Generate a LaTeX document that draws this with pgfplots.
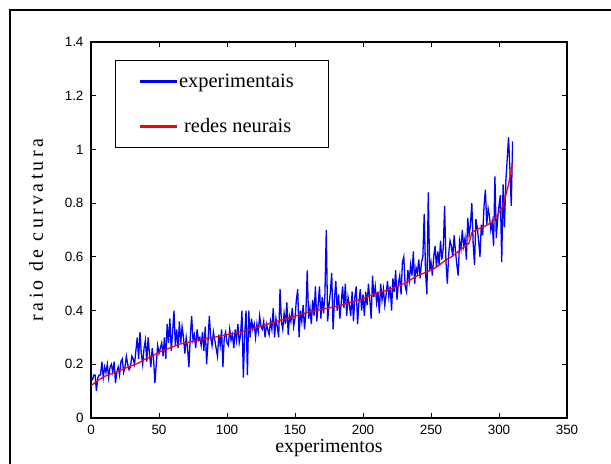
\documentclass[border=0pt]{standalone}
\usepackage{fontspec}
\setmainfont{Liberation Serif}
\newfontfamily\arialfont{Liberation Sans}
\newfontfamily\ylabfont[LetterSpace=17]{Liberation Serif}
\usepackage{pgfplots}
\pgfplotsset{compat=1.18}

\begin{document}
\begin{tikzpicture}
\useasboundingbox (-91bp,-46bp) rectangle (520bp,418bp);
% figure frame (only left and top edges are visible)
\draw[line width=1.3bp] (-81bp,-60bp) -- (-81bp,408bp) -- (540bp,408bp);
\begin{axis}[
    at={(0,0)}, anchor=south west,
    scale only axis, width=476bp, height=376bp,
    xmin=0, xmax=350, ymin=0, ymax=1.4,
    xtick={0,50,...,350},
    ytick={0,0.2,0.4,0.6,0.8,1,1.2,1.4},
    yticklabels={0,0.2,0.4,0.6,0.8,1,1.2,1.4},
    tick align=inside, major tick length=5bp,
    tick style={black, line width=0.8bp},
    axis line style={line width=1.2bp},
    ticklabel style={font=\arialfont\fontsize{13.5}{15}\selectfont},
    /pgf/number format/assume math mode=true,
    yticklabel style={xshift=-4bp},
    xticklabel style={yshift=-4bp},
    xlabel={experimentos}, ylabel={\ylabfont raio de curvatura},
    label style={font=\fontsize{20}{24}\selectfont},
    xlabel style={at={([yshift=-34bp]axis description cs:0.5,0)}, anchor=base},
    ylabel style={at={([xshift=-48bp]axis description cs:0,0.5)}, anchor=base},
    legend style={at={(axis description cs:0.0504,0.952)}, anchor=north west,
        line width=1.1bp, font=\fontsize{20.5}{24}\selectfont,
        inner xsep=24bp, inner ysep=11bp, row sep=24.4bp,
        nodes={inner sep=2.5bp, text depth=0.15em}, cells={anchor=west}},
]
\addlegendimage{legend image code/.code={\fill[blue] (0bp,-0.85bp) rectangle (36bp,0.85bp);}}
\addlegendentry{experimentais\hspace*{8bp}}
\addlegendimage{legend image code/.code={\fill[red] (0bp,-0.85bp) rectangle (36bp,0.85bp);}}
\addlegendentry{\hspace*{5bp}redes neurais}

% experimental values
\addplot[draw=blue, line width=1.3bp, mark=none, forget plot] coordinates {
(1,0.14)(2,0.16)(3,0.16)(4,0.10)(5,0.15)(6,0.16)(7,0.16)(8,0.21)(9,0.15)(10,0.19)
(11,0.17)(12,0.20)(13,0.15)(14,0.19)(15,0.20)(16,0.17)(17,0.21)(18,0.13)(19,0.17)(20,0.19)
(21,0.16)(22,0.21)(23,0.22)(24,0.17)(25,0.19)(26,0.23)(27,0.20)(28,0.18)(29,0.19)(30,0.23)
(31,0.22)(32,0.20)(33,0.25)(34,0.30)(35,0.22)(36,0.32)(37,0.24)(38,0.20)(39,0.26)(40,0.29)
(41,0.21)(42,0.30)(43,0.24)(44,0.19)(45,0.26)(46,0.22)(47,0.13)(48,0.20)(49,0.27)(50,0.24)
(51,0.26)(52,0.28)(53,0.23)(54,0.30)(55,0.22)(56,0.35)(57,0.28)(58,0.37)(59,0.25)(60,0.32)
(61,0.40)(62,0.27)(63,0.33)(64,0.26)(65,0.36)(66,0.28)(67,0.34)(68,0.30)(69,0.24)(70,0.30)
(71,0.26)(72,0.19)(73,0.30)(74,0.38)(75,0.29)(76,0.31)(77,0.26)(78,0.33)(79,0.29)(80,0.30)
(81,0.27)(82,0.32)(83,0.25)(84,0.34)(85,0.20)(86,0.28)(87,0.38)(88,0.30)(89,0.27)(90,0.32)
(91,0.29)(92,0.26)(93,0.23)(94,0.31)(95,0.27)(96,0.33)(97,0.19)(98,0.30)(99,0.32)(100,0.28)
(101,0.27)(102,0.33)(103,0.29)(104,0.31)(105,0.26)(106,0.33)(107,0.29)(108,0.35)(109,0.28)(110,0.31)
(111,0.40)(112,0.15)(113,0.31)(114,0.40)(115,0.16)(116,0.40)(117,0.30)(118,0.37)(119,0.33)(120,0.35)
(121,0.30)(122,0.35)(123,0.32)(124,0.38)(125,0.34)(126,0.33)(127,0.36)(128,0.30)(129,0.35)(130,0.33)
(131,0.31)(132,0.36)(133,0.33)(134,0.41)(135,0.30)(136,0.37)(137,0.34)(138,0.30)(139,0.48)(140,0.36)
(141,0.33)(142,0.39)(143,0.35)(144,0.43)(145,0.31)(146,0.38)(147,0.36)(148,0.41)(149,0.34)(150,0.37)
(151,0.44)(152,0.48)(153,0.30)(154,0.40)(155,0.36)(156,0.42)(157,0.33)(158,0.39)(159,0.55)(160,0.37)
(161,0.41)(162,0.35)(163,0.44)(164,0.38)(165,0.49)(166,0.36)(167,0.42)(168,0.49)(169,0.37)(170,0.45)
(171,0.39)(172,0.46)(173,0.70)(174,0.36)(175,0.42)(176,0.47)(177,0.54)(178,0.33)(179,0.44)(180,0.51)
(181,0.40)(182,0.46)(183,0.37)(184,0.43)(185,0.49)(186,0.41)(187,0.50)(188,0.38)(189,0.45)(190,0.42)
(191,0.38)(192,0.47)(193,0.36)(194,0.45)(195,0.49)(196,0.35)(197,0.43)(198,0.48)(199,0.40)(200,0.46)
(201,0.38)(202,0.47)(203,0.42)(204,0.50)(205,0.44)(206,0.37)(207,0.53)(208,0.45)(209,0.49)(210,0.43)
(211,0.47)(212,0.39)(213,0.50)(214,0.44)(215,0.48)(216,0.42)(217,0.46)(218,0.51)(219,0.45)(220,0.49)
(221,0.40)(222,0.52)(223,0.47)(224,0.55)(225,0.44)(226,0.50)(227,0.53)(228,0.46)(229,0.58)(230,0.60)
(231,0.49)(232,0.47)(233,0.55)(234,0.51)(235,0.57)(236,0.53)(237,0.62)(238,0.50)(239,0.56)(240,0.54)
(241,0.59)(242,0.52)(243,0.58)(244,0.60)(245,0.76)(246,0.54)(247,0.46)(248,0.84)(249,0.55)(250,0.58)
(251,0.53)(252,0.60)(253,0.64)(254,0.56)(255,0.62)(256,0.57)(257,0.66)(258,0.59)(259,0.63)(260,0.79)
(261,0.58)(262,0.50)(263,0.61)(264,0.66)(265,0.64)(266,0.60)(267,0.68)(268,0.62)(269,0.57)(270,0.53)
(271,0.66)(272,0.63)(273,0.70)(274,0.64)(275,0.67)(276,0.59)(277,0.745)(278,0.68)(279,0.72)(280,0.80)
(281,0.65)(282,0.57)(283,0.74)(284,0.71)(285,0.66)(286,0.60)(287,0.72)(288,0.68)(289,0.79)(290,0.85)
(291,0.72)(292,0.78)(293,0.75)(294,0.70)(295,0.73)(296,0.64)(297,0.90)(298,0.67)(299,0.74)(300,0.79)
(301,0.83)(302,0.58)(303,0.87)(304,0.71)(305,0.88)(306,0.96)(307,1.046)(308,0.93)(309,0.79)(310,1.03)
};

% neural network output
\addplot[draw=red, line width=1.3bp, mark=none, forget plot] coordinates {
(0,0.12)(5,0.14)(10,0.155)(15,0.165)(20,0.175)(25,0.185)(30,0.195)(35,0.205)(40,0.22)
(45,0.23)(50,0.245)(55,0.255)(60,0.265)(65,0.275)(70,0.28)(75,0.285)(80,0.29)(85,0.297)
(90,0.30)(95,0.305)(100,0.31)(105,0.315)(110,0.32)(115,0.327)(120,0.335)(125,0.342)
(130,0.35)(135,0.357)(140,0.365)(145,0.372)(150,0.38)(155,0.387)(160,0.395)(165,0.40)
(170,0.405)(175,0.41)(180,0.415)(185,0.422)(190,0.43)(195,0.437)(200,0.445)(205,0.455)
(210,0.465)(215,0.472)(220,0.48)(225,0.49)(230,0.50)(235,0.515)(240,0.53)(245,0.54)
(250,0.55)(255,0.565)(260,0.585)(265,0.60)(270,0.62)(275,0.64)(278,0.65)(280,0.69)
(285,0.705)(290,0.715)(295,0.73)(298,0.75)(300,0.765)(303,0.79)(305,0.83)(307,0.87)(310,0.95)
};

\end{axis}
\end{tikzpicture}
\end{document}
